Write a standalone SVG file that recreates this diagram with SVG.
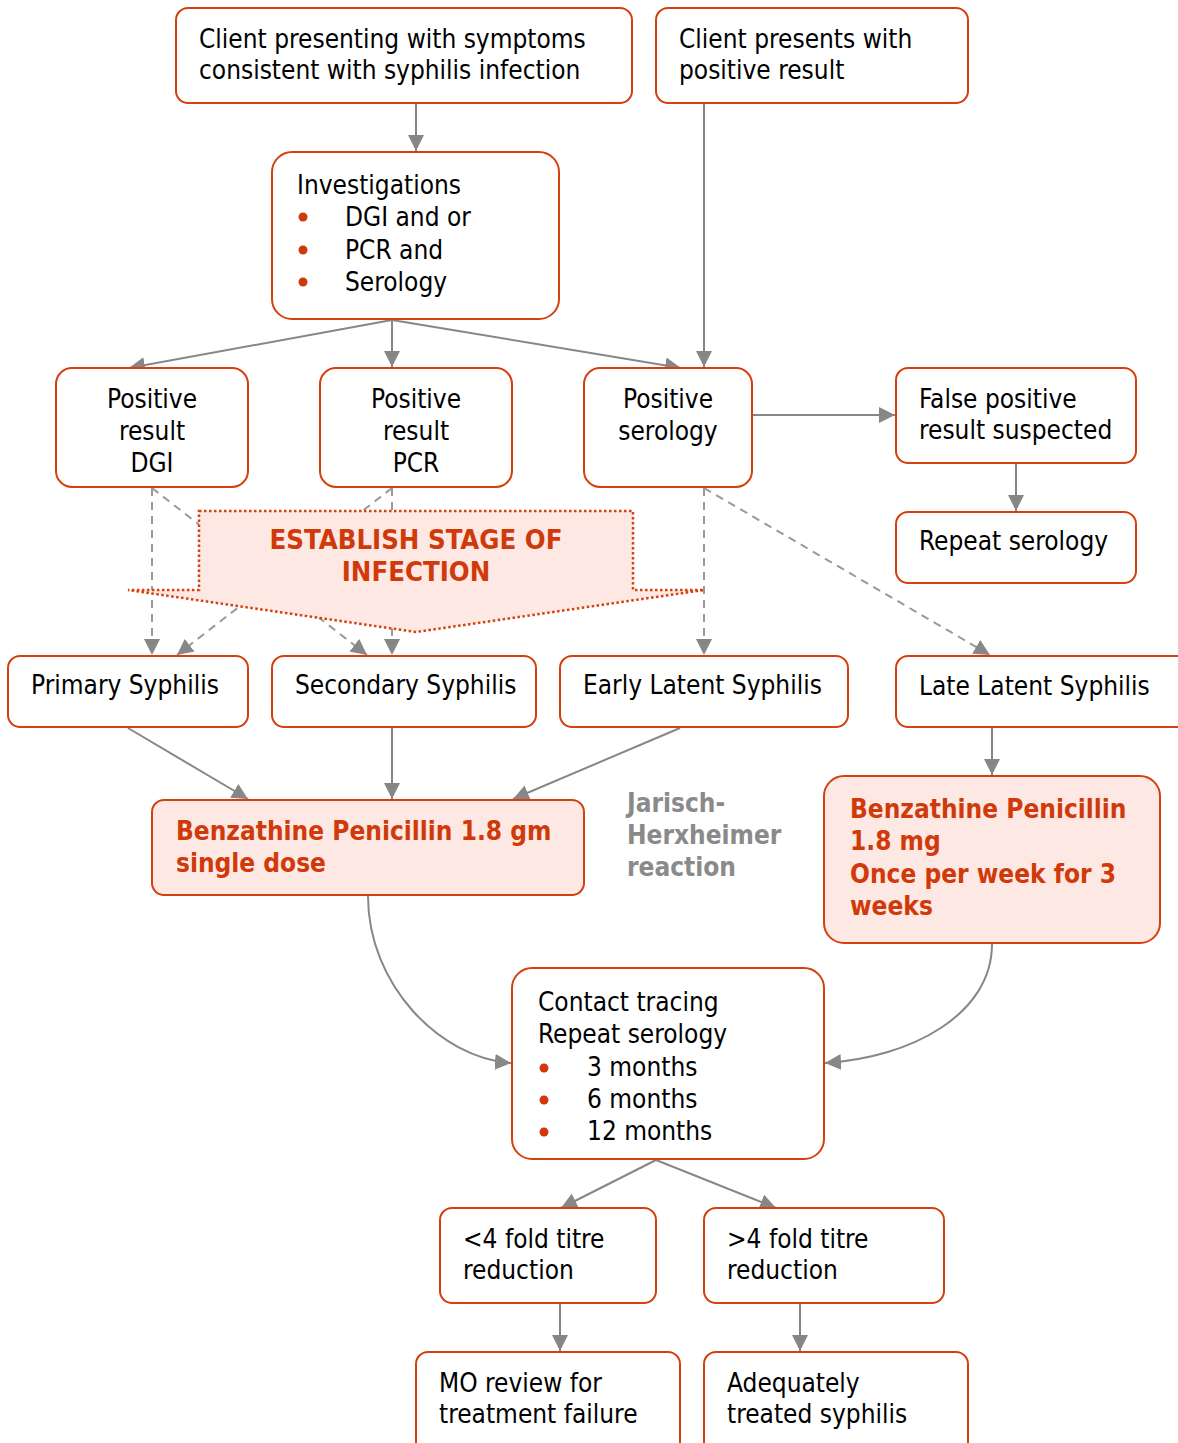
<svg xmlns="http://www.w3.org/2000/svg" width="1178" height="1443" viewBox="0 0 1178 1443">
<defs>
<marker id="ah" viewBox="0 0 10 10" refX="10" refY="5" markerWidth="16" markerHeight="16" markerUnits="userSpaceOnUse" orient="auto">
<path d="M0,0 L10,5 L0,10 z" fill="#878787"/>
</marker>
</defs>
<style>
.box{fill:#ffffff;stroke:#d4410f;stroke-width:2}
.pink{fill:#fde8e3;stroke:#d4410f;stroke-width:2}
.t{font-family:"DejaVu Sans Condensed","DejaVu Sans",sans-serif;font-size:26px;fill:#000}
.c{text-anchor:middle}
.b{font-family:"DejaVu Sans Condensed","DejaVu Sans",sans-serif;font-size:26px;font-weight:bold;fill:#d03a0a}
.e{font-size:27.3px}
.g{font-family:"DejaVu Sans Condensed","DejaVu Sans",sans-serif;font-size:26px;font-weight:bold;fill:#8a8a8a}
.dot{fill:#d03a0a}
.ln{fill:none;stroke:#878787;stroke-width:2;marker-end:url(#ah)}
.dl{fill:none;stroke:#999999;stroke-width:2;stroke-dasharray:8 6;marker-end:url(#ah)}
</style>
<rect width="1178" height="1443" fill="#ffffff"/>

<g id="connectors">
<line class="ln" x1="416" y1="104" x2="416" y2="151"/>
<line class="ln" x1="704" y1="104" x2="704" y2="367"/>
<line class="ln" x1="392" y1="320" x2="129" y2="368"/>
<line class="ln" x1="392" y1="320" x2="392" y2="367"/>
<line class="ln" x1="392" y1="320" x2="681" y2="368"/>
<line class="ln" x1="752" y1="415" x2="895" y2="415"/>
<line class="ln" x1="1016" y1="464" x2="1016" y2="511"/>
<line class="dl" x1="152" y1="488" x2="152" y2="655"/>
<line class="dl" x1="152" y1="488" x2="367" y2="655"/>
<line class="dl" x1="392" y1="488" x2="392" y2="655"/>
<line class="dl" x1="392" y1="488" x2="177" y2="655"/>
<line class="dl" x1="704" y1="488" x2="704" y2="655"/>
<line class="dl" x1="704" y1="488" x2="990" y2="655"/>
<line class="ln" x1="128" y1="728" x2="248" y2="799"/>
<line class="ln" x1="392" y1="728" x2="392" y2="799"/>
<line class="ln" x1="680" y1="728" x2="513" y2="799"/>
<line class="ln" x1="992" y1="728" x2="992" y2="775"/>
<path class="ln" d="M368,896 C368,985 440,1058 511,1063"/>
<path class="ln" d="M992,944 C992,1015 910,1058 825,1063"/>
<line class="ln" x1="656" y1="1160" x2="561" y2="1208"/>
<line class="ln" x1="656" y1="1160" x2="776" y2="1208"/>
<line class="ln" x1="560" y1="1304" x2="560" y2="1351"/>
<line class="ln" x1="800" y1="1304" x2="800" y2="1351"/>
</g>

<g id="establish">
<polygon points="199,511 633,511 633,590 704,590 416,632 128,590 199,590" fill="#fde8e3" stroke="#d4410f" stroke-width="2.5" stroke-dasharray="2.5 2.5"/>
<text class="b c e" x="416" y="549">ESTABLISH STAGE OF</text>
<text class="b c e" x="416" y="581">INFECTION</text>
</g>

<g id="n1">
<rect class="box" x="176" y="8" width="456" height="95" rx="12"/>
<text class="t" x="199" y="48">Client presenting with symptoms</text>
<text class="t" x="199" y="79">consistent with syphilis infection</text>
</g>
<g id="n2">
<rect class="box" x="656" y="8" width="312" height="95" rx="12"/>
<text class="t" x="679" y="48">Client presents with</text>
<text class="t" x="679" y="79">positive result</text>
</g>
<g id="n3">
<rect class="box" x="272" y="152" width="287" height="167" rx="20"/>
<text class="t" x="297" y="194">Investigations</text>
<circle class="dot" cx="303" cy="217" r="4.5"/>
<circle class="dot" cx="303" cy="250" r="4.5"/>
<circle class="dot" cx="303" cy="282" r="4.5"/>
<text class="t" x="345" y="226">DGI and or</text>
<text class="t" x="345" y="259">PCR and</text>
<text class="t" x="345" y="291">Serology</text>
</g>
<g id="n4">
<rect class="box" x="56" y="368" width="192" height="119" rx="16"/>
<text class="t c" x="152" y="408">Positive</text>
<text class="t c" x="152" y="440">result</text>
<text class="t c" x="152" y="472">DGI</text>
</g>
<g id="n5">
<rect class="box" x="320" y="368" width="192" height="119" rx="16"/>
<text class="t c" x="416" y="408">Positive</text>
<text class="t c" x="416" y="440">result</text>
<text class="t c" x="416" y="472">PCR</text>
</g>
<g id="n6">
<rect class="box" x="584" y="368" width="168" height="119" rx="16"/>
<text class="t c" x="668" y="408">Positive</text>
<text class="t c" x="668" y="440">serology</text>
</g>
<g id="n7">
<rect class="box" x="896" y="368" width="240" height="95" rx="12"/>
<text class="t" x="919" y="408">False positive</text>
<text class="t" x="919" y="439">result suspected</text>
</g>
<g id="n8">
<rect class="box" x="896" y="512" width="240" height="71" rx="12"/>
<text class="t" x="919" y="550">Repeat serology</text>
</g>
<g id="n9">
<rect class="box" x="8" y="656" width="240" height="71" rx="12"/>
<text class="t" x="31" y="694">Primary Syphilis</text>
</g>
<g id="n10">
<rect class="box" x="272" y="656" width="264" height="71" rx="12"/>
<text class="t" x="295" y="694">Secondary Syphilis</text>
</g>
<g id="n11">
<rect class="box" x="560" y="656" width="288" height="71" rx="12"/>
<text class="t" x="583" y="694">Early Latent Syphilis</text>
</g>
<g id="n12">
<rect class="box" x="896" y="656" width="300" height="71" rx="12"/>
<text class="t" x="919" y="695">Late Latent Syphilis</text>
</g>
<g id="n13">
<rect class="pink" x="152" y="800" width="432" height="95" rx="12"/>
<text class="b" x="176" y="840">Benzathine Penicillin 1.8 gm</text>
<text class="b" x="176" y="872">single dose</text>
</g>
<g id="n14">
<rect class="pink" x="824" y="776" width="336" height="167" rx="20"/>
<text class="b" x="850" y="818">Benzathine Penicillin</text>
<text class="b" x="850" y="850">1.8 mg</text>
<text class="b" x="850" y="883">Once per week for 3</text>
<text class="b" x="850" y="915">weeks</text>
</g>
<g id="jarisch">
<text class="g" x="627" y="812">Jarisch-</text>
<text class="g" x="627" y="844">Herxheimer</text>
<text class="g" x="627" y="876">reaction</text>
</g>
<g id="n15">
<rect class="box" x="512" y="968" width="312" height="191" rx="20"/>
<text class="t" x="538" y="1011">Contact tracing</text>
<text class="t" x="538" y="1043">Repeat serology</text>
<circle class="dot" cx="544" cy="1068" r="4.5"/>
<circle class="dot" cx="544" cy="1100" r="4.5"/>
<circle class="dot" cx="544" cy="1132" r="4.5"/>
<text class="t" x="587" y="1076">3 months</text>
<text class="t" x="587" y="1108">6 months</text>
<text class="t" x="587" y="1140">12 months</text>
</g>
<g id="n16">
<rect class="box" x="440" y="1208" width="216" height="95" rx="12"/>
<text class="t" x="463" y="1248">&lt;4 fold titre</text>
<text class="t" x="463" y="1279">reduction</text>
</g>
<g id="n17">
<rect class="box" x="704" y="1208" width="240" height="95" rx="12"/>
<text class="t" x="727" y="1248">&gt;4 fold titre</text>
<text class="t" x="727" y="1279">reduction</text>
</g>
<g id="n18">
<rect class="box" x="416" y="1352" width="264" height="110" rx="12"/>
<text class="t" x="439" y="1392">MO review for</text>
<text class="t" x="439" y="1423">treatment failure</text>
</g>
<g id="n19">
<rect class="box" x="704" y="1352" width="264" height="110" rx="12"/>
<text class="t" x="727" y="1392">Adequately</text>
<text class="t" x="727" y="1423">treated syphilis</text>
</g>
</svg>
